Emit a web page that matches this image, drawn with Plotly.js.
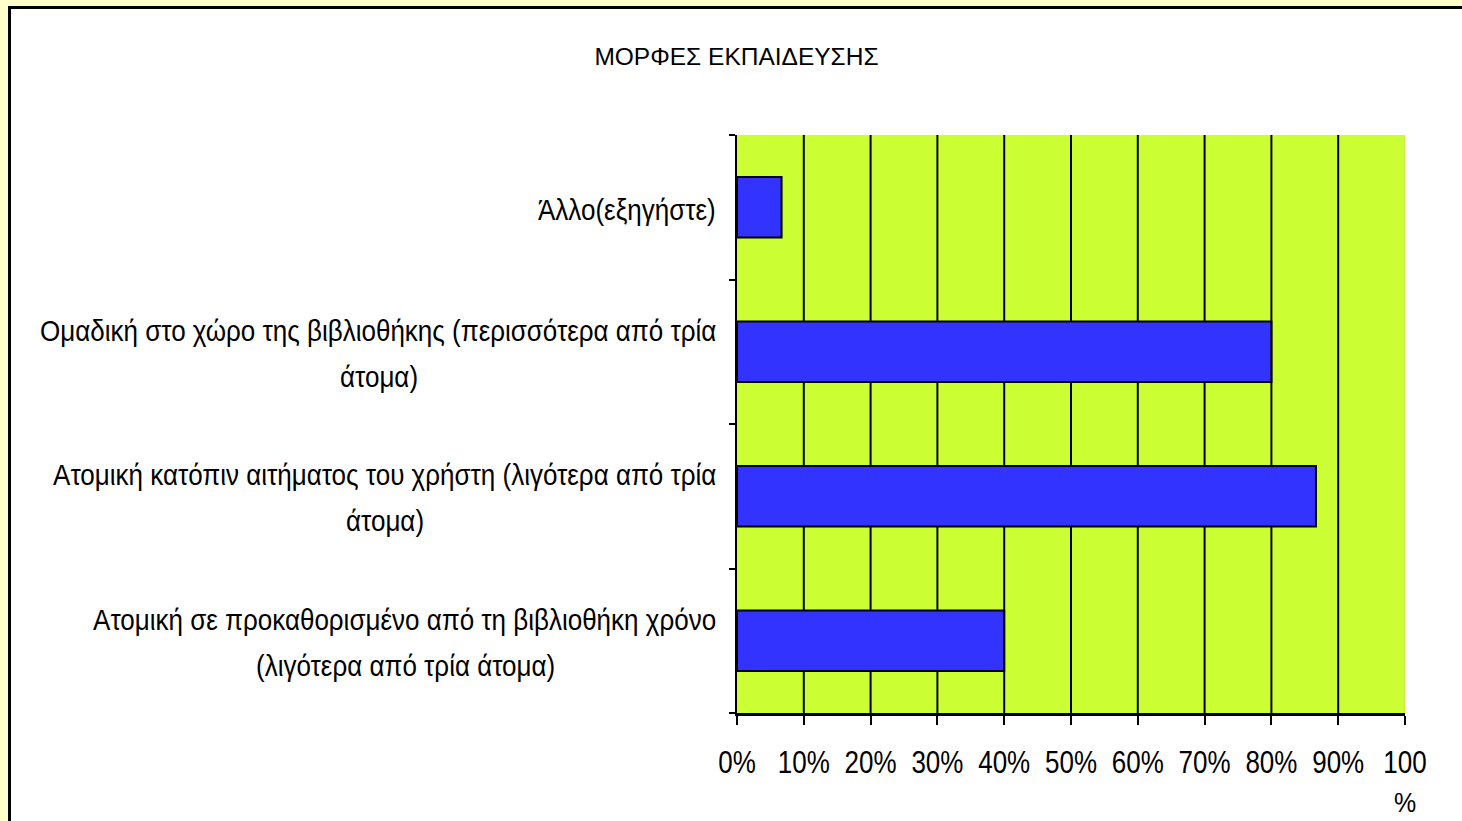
<!DOCTYPE html>
<html>
<head>
<meta charset="utf-8">
<script src="https://cdn.plot.ly/plotly-3.0.1.min.js"></script>
<style>
  html, body { margin:0; padding:0; width:1462px; height:821px; overflow:hidden; background:#FFFFCC; }
  #frame { position:absolute; left:8px; top:6px; width:1460px; height:820px; background:#fff;
           border-left:3px solid #000; border-top:3px solid #000; overflow:hidden; }
  #chart { position:absolute; left:0; top:0; width:1451px; height:812px; }
  #chart text.annotation-text { transform-box: fill-box; transform-origin: center; transform: scaleY(1.13); }
  #chart g.xtick { transform-box: fill-box; transform-origin: center; transform: scaleY(1.2); }
</style>
</head>
<body>
<div id="frame"><div id="chart"></div></div>
<script>
// ---- data ----
const chartTitle = 'ΜΟΡΦΕΣ ΕΚΠΑΙΔΕΥΣΗΣ';
const categories = ['cat4', 'cat3', 'cat2', 'cat1'];
const labelLines = [
  ['Ατομική σε προκαθορισμένο από τη βιβλιοθήκη χρόνο', '(λιγότερα από τρία άτομα)'],
  ['Ατομική κατόπιν αιτήματος του χρήστη (λιγότερα από τρία', 'άτομα)'],
  ['Ομαδική στο χώρο της βιβλιοθήκης (περισσότερα από τρία', 'άτομα)'],
  ['Άλλο(εξηγήστε)']
];
const values = [40, 86.67, 80, 6.67];
const tickValues = [0, 10, 20, 30, 40, 50, 60, 70, 80, 90, 100];
const tickLabels = ['0%', '10%', '20%', '30%', '40%', '50%', '60%', '70%', '80%', '90%', '100'];
const gridValues = [10, 20, 30, 40, 50, 60, 70, 80, 90];

// ---- styling ----
const FONT = "'Liberation Sans', Arial, sans-serif";
const LABEL_SIZE = 26;
const canvas = document.createElement('canvas');
const ctx = canvas.getContext('2d');
ctx.font = LABEL_SIZE + "px 'Liberation Sans', Arial, sans-serif";

const annotations = [];
const LABEL_GAP = 19;
labelLines.forEach((lines, i) => {
  if (lines.length === 1) {
    annotations.push({xref:'paper', yref:'y', x:0, y:categories[i], xanchor:'right', yanchor:'middle',
      xshift:-LABEL_GAP, yshift:-3, text:lines[0], showarrow:false,
      font:{family:FONT, size:LABEL_SIZE, color:'#000'}});
  } else {
    const w1 = ctx.measureText(lines[0]).width;
    annotations.push({xref:'paper', yref:'y', x:0, y:categories[i], xanchor:'right', yanchor:'middle',
      xshift:-LABEL_GAP, yshift:21, text:lines[0], showarrow:false,
      font:{family:FONT, size:LABEL_SIZE, color:'#000'}});
    annotations.push({xref:'paper', yref:'y', x:0, y:categories[i], xanchor:'center', yanchor:'middle',
      xshift:-LABEL_GAP - w1/2 - 1, yshift:-25, text:lines[1], showarrow:false,
      font:{family:FONT, size:LABEL_SIZE, color:'#000'}});
  }
});
annotations.push({xref:'x', yref:'paper', x:100, y:0, xanchor:'center', yanchor:'middle',
  yshift:-89, text:'%', showarrow:false, font:{family:FONT, size:25, color:'#000'}});

const shapes = gridValues.map(v => ({type:'line', xref:'x', yref:'paper', x0:v, x1:v, y0:0, y1:1,
  layer:'below', line:{color:'#000', width:2}}));
shapes.push({type:'line', xref:'x', yref:'paper', x0:100, x1:100, y0:0, y1:1,
  layer:'below', line:{color:'#b8d860', width:1}});

const trace = {
  type:'bar', orientation:'h',
  x: values, y: categories,
  width: 0.42,
  marker:{color:'#3333FF', line:{color:'#000', width:2}},
  hoverinfo:'x'
};

const layout = {
  width:1451, height:812,
  margin:{l:726, r:57, t:126, b:108, pad:0},
  paper_bgcolor:'#FFFFFF',
  plot_bgcolor:'#CCFF33',
  showlegend:false,
  title:{text:chartTitle, x:0.5, xref:'container', xanchor:'center', y:1-47/812, yref:'container', yanchor:'middle',
    font:{family:FONT, size:24.5, color:'#000'}},
  xaxis:{range:[0,100], tickmode:'array', tickvals:tickValues, ticktext:tickLabels,
    showgrid:false, zeroline:false, showline:true, linecolor:'#000', linewidth:3,
    ticks:'outside', ticklen:9, tickwidth:2, tickcolor:'#000', ticklabelstandoff:15,
    tickfont:{family:FONT, size:26, color:'#000'}, fixedrange:true},
  yaxis:{type:'category', categoryorder:'array', categoryarray:categories,
    showgrid:false, zeroline:false, showline:true, linecolor:'#000', linewidth:2,
    ticks:'outside', tickson:'boundaries', ticklen:6, tickwidth:2, tickcolor:'#000',
    showticklabels:false, fixedrange:true},
  bargap:0.58,
  shapes:shapes,
  annotations:annotations
};

Plotly.newPlot('chart', [trace], layout, {displayModeBar:false, staticPlot:true});
</script>
</body>
</html>
